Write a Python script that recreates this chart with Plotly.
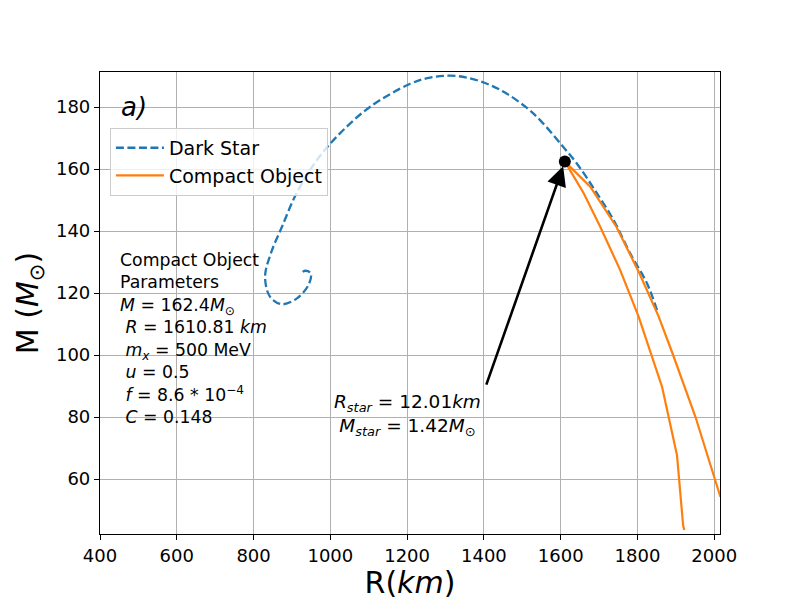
import plotly.graph_objects as go

# dark star M-R curve (km, solar masses)
dark_r = [1851, 1825, 1781, 1738, 1686, 1642, 1603, 1547, 1512, 1460, 1416, 1360,
          1312, 1260, 1208, 1104, 1025, 965, 912, 874, 845, 830, 843, 874, 913,
          943, 949, 934, 926]
dark_m = [114.5, 123.1, 132.8, 143.5, 153.8, 161.8, 167.7, 175.7, 179.7, 184.3, 187.1, 189.4,
          190.1, 189.5, 187.5, 180.1, 171.5, 162.9, 152.2, 141.4, 132.8, 125.3, 118.8, 116.4, 118.3,
          122.6, 126.4, 127.2, 126.6]

# compact object branches
co_outer_r = [1611, 1677, 1745, 1805, 1855, 1890, 1951, 2016]
co_outer_m = [162.4, 154.3, 141.4, 126.4, 112.5, 101.0, 80.1, 54.3]
co_inner_r = [1611, 1660, 1703, 1755, 1803, 1864, 1903, 1919, 1922]
co_inner_m = [162.4, 152.2, 141.4, 127.4, 112.4, 89.8, 67.7, 45.0, 43.6]

# marked point
star_r = [1610.81]
star_m = [162.4]

params_text = ("Compact Object<br>Parameters<br>"
               "<i>M</i> = 162.4<i>M</i><sub>⊙</sub><br>"
               " <i>R</i> = 1610.81 <i>km</i><br>"
               " <i>m<sub>x</sub></i> = 500 MeV<br>"
               " <i>u</i> = 0.5<br>"
               " <i>f</i> = 8.6 * 10<sup>−4</sup><br>"
               " <i>C</i> = 0.148")
star_text = ("<i>R<sub>star</sub></i> = 12.01<i>km</i><br>"
             "<i>M<sub>star</sub></i> = 1.42<i>M</i><sub>⊙</sub>")

BLUE = "#1f77b4"
ORANGE = "#ff7f0e"
FONT = "DejaVu Sans"

fig = go.Figure()
fig.add_trace(go.Scatter(
    x=dark_r, y=dark_m, name="Dark Star", mode="lines",
    line=dict(color=BLUE, width=2.3, dash="8px,3.5px", shape="spline", smoothing=1),
))
fig.add_trace(go.Scatter(
    x=co_outer_r, y=co_outer_m, name="Compact Object", mode="lines",
    line=dict(color=ORANGE, width=2.2),
))
fig.add_trace(go.Scatter(
    x=co_inner_r, y=co_inner_m, mode="lines", showlegend=False,
    line=dict(color=ORANGE, width=2.2),
))
fig.add_trace(go.Scatter(
    x=star_r, y=star_m, mode="markers", showlegend=False,
    marker=dict(color="black", size=12),
))

fig.add_annotation(  # arrow
    x=star_r[0], y=star_m[0], xref="x", yref="y",
    ax=1405, ay=90, axref="x", ayref="y",
    text="", showarrow=True, arrowhead=2, arrowsize=1.5, arrowwidth=2.6,
    arrowcolor="black", standoff=5,
)
fig.add_annotation(
    x=1200, y=80.6, xref="x", yref="y", text=star_text, showarrow=False,
    align="center", xanchor="center", yanchor="middle",
    font=dict(family=FONT, size=18.5, color="black"),
)
fig.add_annotation(
    x=448, y=134.5, xref="x", yref="y", text=params_text, showarrow=False,
    align="left", xanchor="left", yanchor="top",
    font=dict(family=FONT, size=17.3, color="black"),
)
fig.add_annotation(
    x=450, y=180, xref="x", yref="y", text="<i>a)</i>", showarrow=False,
    xanchor="left", yanchor="middle",
    font=dict(family=FONT, size=26, color="black"),
)

axis_style = dict(
    showgrid=True, gridcolor="#b0b0b0", gridwidth=1,
    showline=True, linecolor="black", linewidth=1.2, mirror=True,
    ticks="outside", ticklen=5, tickcolor="black",
    tickfont=dict(family=FONT, size=18, color="black"),
    zeroline=False, automargin=False,
)
fig.update_xaxes(range=[400, 2015], tick0=400, dtick=200,
                 title=dict(text="R(<i>km</i>)", font=dict(family=FONT, size=30, color="black"),
                            standoff=0),
                 **axis_style)
fig.update_yaxes(range=[42.3, 191.3], tick0=60, dtick=20,
                 title=dict(text="M (<i>M</i><sub>⊙</sub>)",
                            font=dict(family=FONT, size=30, color="black"), standoff=8),
                 **axis_style)

# page body has an 8px margin, so the figure is 792x592 and margins are offset
fig.update_layout(
    width=792, height=592,
    margin=dict(l=92, r=80, t=64, b=66, autoexpand=False),
    plot_bgcolor="white", paper_bgcolor="white",
    font=dict(family=FONT, color="black"),
    legend=dict(x=0.016, y=0.879, xanchor="left", yanchor="top",
                bgcolor="rgba(255,255,255,0.8)", bordercolor="#cccccc", borderwidth=1,
                font=dict(family=FONT, size=19, color="black"),
                itemwidth=48, tracegroupgap=0),
)

fig.write_html("out.html")
